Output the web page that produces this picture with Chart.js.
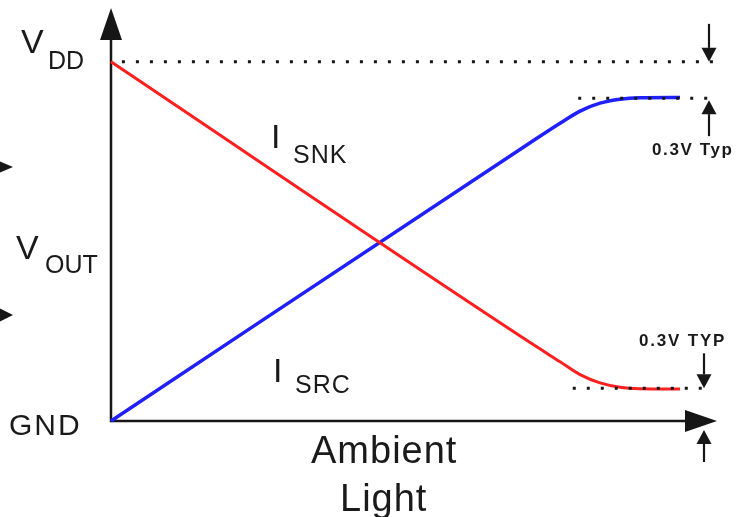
<!DOCTYPE html>
<html>
<head>
<meta charset="utf-8">
<script src="https://cdn.jsdelivr.net/npm/chart.js@4"></script>
<style>
  html, body { margin: 0; padding: 0; background: #fff; }
  #wrap { width: 740px; height: 517px; }
</style>
</head>
<body>
<div id="wrap"><canvas id="vout-chart" width="740" height="517"></canvas></div>
<script>
'use strict';

// ambient light (arbitrary units) vs output level (0 = GND, 100 = VDD)
const snkLight = [0, 69.1, 74.1, 77.4, 80.7, 84.0, 87.3, 93.9];
const snkLevel = [100, 21.9, 16.5, 12.9, 10.6, 9.4, 9.0, 8.9];
const srcLight = [0, 69.1, 74.1, 77.4, 80.7, 84.0, 87.3, 93.9];
const srcLevel = [0, 77.4, 82.9, 86.3, 88.5, 89.6, 90.0, 90.1];

// dotted reference lines: [from, to] in light units, at a level
const vddLevel = 100;
const vddSpan = [1.8, 100.5];
const highLevel = 89.9;
const highSpan = [77.1, 99.3];
const lowLevel = 9.1;
const lowSpan = [76.2, 98.5];

const INK = '#161616';
const FONT = '"Liberation Sans", Arial, sans-serif';

function pts(xs, ys) {
    return xs.map((x, i) => ({x: x, y: ys[i]}));
}

function hline(level, span) {
    return [{x: span[0], y: level}, {x: span[1], y: level}];
}

function dotted(data) {
    return {
        data: data,
        showLine: true,
        borderColor: INK,
        borderWidth: 3,
        borderDash: [3, 11],
        borderCapStyle: 'butt',
        pointRadius: 0,
        clip: false,
        order: 0
    };
}

function arrowHead(ctx, tipX, tipY, dir, len, half) {
    // dir: 'up', 'down', 'right'
    ctx.beginPath();
    ctx.moveTo(tipX, tipY);
    if (dir === 'up') {
        ctx.lineTo(tipX - half, tipY + len);
        ctx.lineTo(tipX + half, tipY + len);
    } else if (dir === 'down') {
        ctx.lineTo(tipX - half, tipY - len);
        ctx.lineTo(tipX + half, tipY - len);
    } else {
        ctx.lineTo(tipX - len, tipY - half);
        ctx.lineTo(tipX - len, tipY + half);
    }
    ctx.closePath();
    ctx.fill();
}

function vArrow(ctx, x, tail, tip) {
    const dir = tip < tail ? 'up' : 'down';
    const head = 14;
    ctx.beginPath();
    ctx.moveTo(x, tail);
    ctx.lineTo(x, dir === 'up' ? tip + head : tip - head);
    ctx.stroke();
    arrowHead(ctx, x, tip, dir, head, 7.5);
}

function text(ctx, str, x, y, size, weight, spacing) {
    ctx.font = (weight || 'normal') + ' ' + size + 'px ' + FONT;
    ctx.letterSpacing = (spacing || 0) + 'px';
    ctx.fillText(str, x, y);
}

const axesPlugin = {
    id: 'schematic_axes',
    beforeDatasetsDraw: (chart) => {
        const ctx = chart.ctx;
        const xs = chart.scales.x;
        const ys = chart.scales.y;
        const x0 = xs.getPixelForValue(0);
        const y0 = ys.getPixelForValue(0);
        ctx.save();
        ctx.strokeStyle = INK;
        ctx.fillStyle = INK;
        ctx.lineWidth = 2.5;
        ctx.beginPath();
        ctx.moveTo(x0, ys.top + 20);
        ctx.lineTo(x0, y0);
        ctx.lineTo(xs.right - 20, y0);
        ctx.stroke();
        arrowHead(ctx, x0, ys.top, 'up', 32, 11);
        arrowHead(ctx, xs.right, y0, 'right', 32, 11);
        ctx.restore();
    },
    afterDatasetsDraw: (chart) => {
        const ctx = chart.ctx;
        const ys = chart.scales.y;
        const yVdd = ys.getPixelForValue(vddLevel);
        const yHigh = ys.getPixelForValue(highLevel);
        const yLow = ys.getPixelForValue(lowLevel);
        const y0 = ys.getPixelForValue(0);
        ctx.save();
        ctx.strokeStyle = INK;
        ctx.fillStyle = INK;
        ctx.lineWidth = 2.2;

        // 0.3V gap markers
        vArrow(ctx, 709, yVdd - 38, yVdd);
        vArrow(ctx, 709, yHigh + 38, yHigh + 2);
        vArrow(ctx, 704, yLow - 35, yLow);
        vArrow(ctx, 704, y0 + 41, y0 + 9);

        // cut-off pointers at the left edge
        arrowHead(ctx, 13, 167, 'right', 14, 6);
        arrowHead(ctx, 13, 315, 'right', 14, 7);

        ctx.textAlign = 'left';
        ctx.textBaseline = 'alphabetic';
        ctx.fillStyle = '#1a1a1a';
        text(ctx, 'V', 21, 53, 34);
        text(ctx, 'DD', 48, 69, 25);
        text(ctx, 'V', 16, 259, 34);
        text(ctx, 'OUT', 45, 273, 25);
        text(ctx, 'GND', 9, 435, 30, 'normal', 2);
        text(ctx, 'I', 271, 148, 34);
        text(ctx, 'SNK', 293, 163, 25, 'normal', 1);
        text(ctx, 'I', 273, 382, 34);
        text(ctx, 'SRC', 295, 393, 25, 'normal', 1);
        text(ctx, 'Ambient', 311, 463, 38, 'normal', 1);
        text(ctx, 'Light', 340, 511, 38, 'normal', 1);
        text(ctx, '0.3V Typ', 652, 155, 17, 'bold', 1.6);
        text(ctx, '0.3V TYP', 639, 346, 17, 'bold', 1.8);
        ctx.restore();
    }
};

const ctx = document.getElementById('vout-chart');
const voutChart = new Chart(ctx, {
    type: 'scatter',
    data: {
        datasets: [
            dotted(hline(vddLevel, vddSpan)),
            dotted(hline(highLevel, highSpan)),
            dotted(hline(lowLevel, lowSpan)),
            {
                label: 'ISNK',
                data: pts(snkLight, snkLevel),
                showLine: true,
                borderColor: '#ff1f1f',
                borderWidth: 3,
                cubicInterpolationMode: 'monotone',
                pointRadius: 0,
                clip: false,
                order: 1
            },
            {
                label: 'ISRC',
                data: pts(srcLight, srcLevel),
                showLine: true,
                borderColor: '#1f1fff',
                borderWidth: 3.5,
                cubicInterpolationMode: 'monotone',
                pointRadius: 0,
                clip: false,
                order: 1
            }
        ]
    },
    options: {
        responsive: false,
        animation: false,
        events: [],
        layout: {
            padding: {left: 111, right: 23, top: 8, bottom: 96}
        },
        scales: {
            x: {type: 'linear', min: 0, max: 100, display: false},
            y: {type: 'linear', min: 0, max: 115, display: false}
        },
        plugins: {
            legend: {display: false},
            tooltip: {enabled: false}
        }
    },
    plugins: [axesPlugin]
});
</script>
</body>
</html>
